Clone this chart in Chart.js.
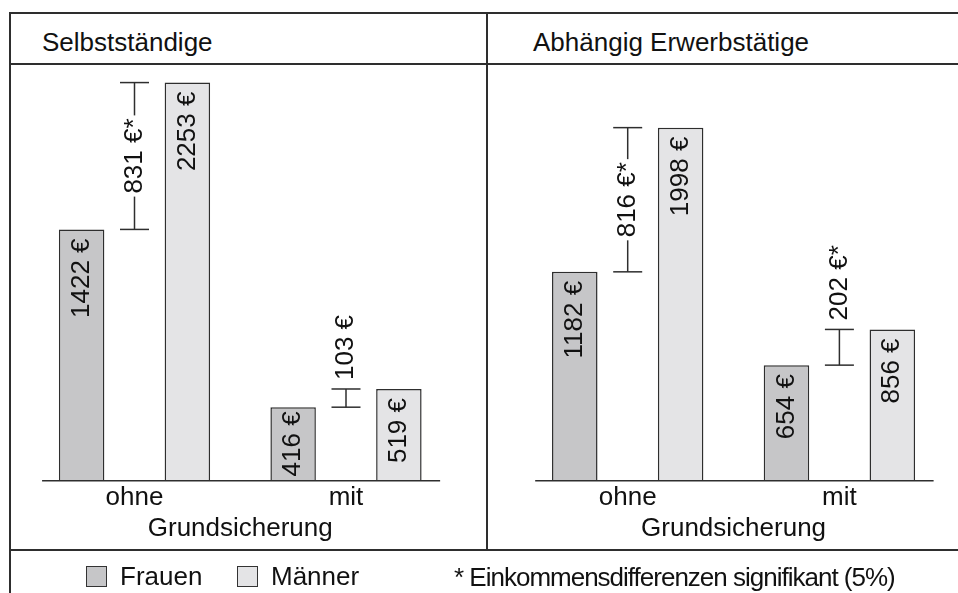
<!DOCTYPE html>
<html lang="de">
<head>
<meta charset="utf-8">
<script src="https://cdn.jsdelivr.net/npm/chart.js@4"></script>
<style>
body { margin: 0; background: #fff; }
#wrap { position: relative; width: 958px; height: 593px; overflow: hidden; font-family: "Liberation Sans", Arial, sans-serif; color: #111; }
.ln { position: absolute; background: #2e2e2e; }
.txt { position: absolute; font-size: 26px; line-height: 26px; white-space: nowrap; }
canvas { position: absolute; top: 0; }
.box { position: absolute; box-sizing: border-box; width: 21px; height: 21px; border: 1.5px solid #333; }
</style>
</head>
<body>
<div id="wrap">
  <div class="ln" style="left:10px;top:12px;width:948px;height:2px"></div>
  <div class="ln" style="left:10px;top:63px;width:948px;height:2px"></div>
  <div class="ln" style="left:9px;top:12px;width:2px;height:581px"></div>
  <div class="ln" style="left:486px;top:12px;width:2px;height:539px"></div>
  <div class="ln" style="left:10px;top:549px;width:948px;height:2px"></div>
  <div class="txt" style="left:42px;top:29px">Selbstständige</div>
  <div class="txt" style="left:533px;top:29px">Abhängig Erwerbstätige</div>
  <canvas id="links" width="487" height="593" style="left:0"></canvas>
  <canvas id="rechts" width="471" height="593" style="left:487px"></canvas>
  <div id="legende"></div>
</div>
<script>
const kategorien = ["ohne", "mit"];
const serien = ["Frauen", "Männer"];
const farben = ["#c6c6c8", "#e4e4e6"];

const selbstFrauen = [1422, 416];
const selbstMaenner = [2253, 519];
const selbstDiff = [831, 103];
const selbstSignifikant = [true, false];

const abhFrauen = [1182, 654];
const abhMaenner = [1998, 856];
const abhDiff = [816, 202];
const abhSignifikant = [true, true];

const achsenTitel = "Grundsicherung";
const fussnote = "* Einkommensdifferenzen signifikant (5%)";
const yMax = 2400;

const schrift = '26px "Liberation Sans", Arial, sans-serif';
Chart.defaults.font.family = '"Liberation Sans", Arial, sans-serif';
Chart.defaults.font.size = 26;
Chart.defaults.color = "#111";

// senkrechter Text, Ende (oben) bei yOben
function textSenkrecht(ctx, text, x, yOben) {
    ctx.save();
    ctx.translate(x, yOben);
    ctx.rotate(-Math.PI / 2);
    ctx.textAlign = "right";
    ctx.textBaseline = "middle";
    ctx.fillText(text, 0, 0);
    ctx.restore();
}

function linie(ctx, x1, y1, x2, y2) {
    ctx.beginPath();
    ctx.moveTo(x1, y1);
    ctx.lineTo(x2, y2);
    ctx.stroke();
}

function panel(id, frauen, maenner, diff, signifikant, padLinks, padRechts) {
    const beschriftung = {
        id: "beschriftung",
        afterDatasetsDraw(chart) {
            const ctx = chart.ctx;
            const xs = chart.scales.x;
            const ys = chart.scales.y;
            ctx.save();
            ctx.font = schrift;
            ctx.fillStyle = "#111";
            ctx.strokeStyle = "#2e2e2e";
            ctx.lineWidth = 1.5;

            // Grundlinie
            const x0 = xs.getPixelForValue(0);
            const x1 = xs.getPixelForValue(1);
            const w = x1 - x0;
            linie(ctx, x0 - 0.437 * w, chart.chartArea.bottom, x1 + 0.445 * w, chart.chartArea.bottom);

            // Werte in den Balken
            chart.data.datasets.forEach((ds, di) => {
                chart.getDatasetMeta(di).data.forEach((bar, i) => {
                    const t = ds.data[i] + " €";
                    const len = ctx.measureText(t).width;
                    let start = bar.y + 9;
                    if (start + len > bar.base - 3) start = (bar.y + bar.base) / 2 - len / 2;
                    textSenkrecht(ctx, t, bar.x, start);
                });
            });

            // Differenzen
            kategorien.forEach((k, i) => {
                const x = xs.getPixelForValue(i);
                const yF = ys.getPixelForValue(frauen[i]);
                const yM = ys.getPixelForValue(maenner[i]);
                const oben = Math.min(yF, yM);
                const unten = Math.max(yF, yM);
                const t = diff[i] + " €" + (signifikant[i] ? "*" : "");
                const len = ctx.measureText(t).width;
                linie(ctx, x - 14.5, oben, x + 14.5, oben);
                linie(ctx, x - 14.5, unten, x + 14.5, unten);
                if (unten - oben > len + 20) {
                    const mitte = (oben + unten) / 2;
                    linie(ctx, x, oben, x, mitte - len / 2 - 3);
                    linie(ctx, x, mitte + len / 2 + 3, x, unten);
                    textSenkrecht(ctx, t, x, mitte - len / 2);
                } else {
                    linie(ctx, x, oben, x, unten);
                    textSenkrecht(ctx, t, x, oben - 9 - len);
                }
            });
            ctx.restore();
        }
    };

    return new Chart(document.getElementById(id), {
        type: "bar",
        data: {
            labels: kategorien,
            datasets: [
                { label: serien[0], data: frauen, backgroundColor: farben[0], borderColor: "#2e2e2e", borderWidth: 1.5 },
                { label: serien[1], data: maenner, backgroundColor: farben[1], borderColor: "#2e2e2e", borderWidth: 1.5 }
            ]
        },
        options: {
            responsive: false,
            animation: false,
            devicePixelRatio: 1,
            categoryPercentage: 1.0,
            barPercentage: 0.43,
            layout: { padding: { left: padLinks, right: padRechts, top: 56.6, bottom: 48.4 } },
            plugins: { legend: { display: false }, tooltip: { enabled: false } },
            scales: {
                x: {
                    grid: { display: false, drawTicks: false },
                    border: { display: false },
                    ticks: { padding: 2, color: "#111" },
                    title: { display: true, text: achsenTitel, padding: 0, color: "#111" },
                    afterFit: s => { s.height = 63.9; }
                },
                y: { display: false, min: 0, max: yMax }
            }
        },
        plugins: [beschriftung]
    });
}

panel("links", selbstFrauen, selbstMaenner, selbstDiff, selbstSignifikant, 28.75, 35.25);
panel("rechts", abhFrauen, abhMaenner, abhDiff, abhSignifikant, 34.85, 12.75);

// Legende
const legende = document.getElementById("legende");
const boxX = [86, 237];
serien.forEach((s, i) => {
    const b = document.createElement("div");
    b.className = "box";
    b.style.left = boxX[i] + "px";
    b.style.top = "566px";
    b.style.background = farben[i];
    legende.appendChild(b);
    const t = document.createElement("div");
    t.className = "txt";
    t.style.left = (boxX[i] + 34) + "px";
    t.style.top = "563px";
    t.textContent = s;
    legende.appendChild(t);
});
const fn = document.createElement("div");
fn.className = "txt";
fn.style.left = "454px";
fn.style.top = "564px";
fn.style.letterSpacing = "-1px";
fn.textContent = fussnote;
legende.appendChild(fn);
</script>
</body>
</html>
